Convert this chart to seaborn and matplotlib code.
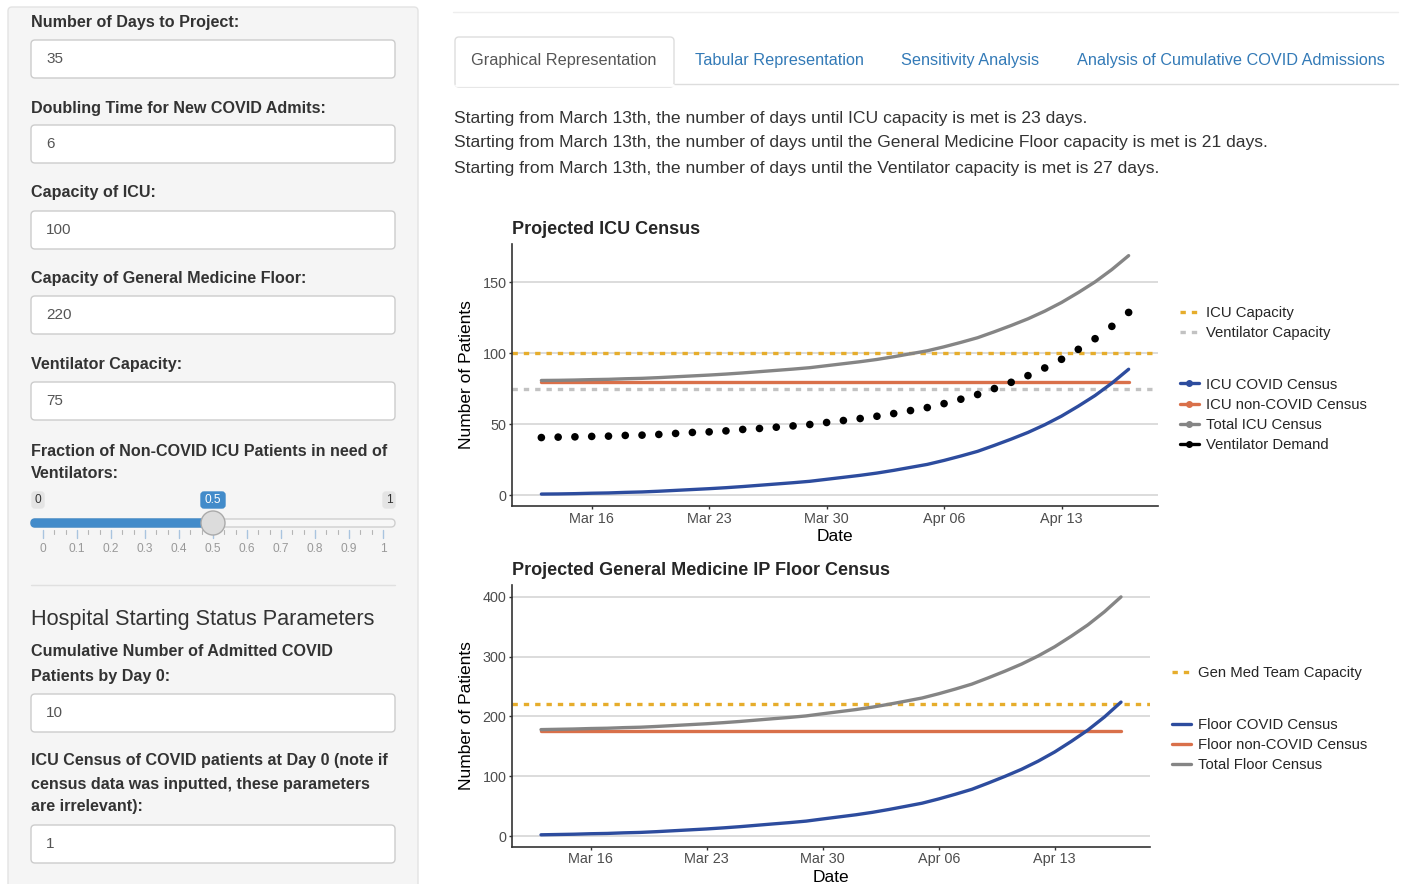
import numpy as np
import pandas as pd
import matplotlib
matplotlib.use("Agg")
import matplotlib.pyplot as plt
import matplotlib.dates as mdates
from matplotlib.patches import FancyBboxPatch, Circle
from matplotlib.lines import Line2D
import seaborn as sns

# ---- data ----
dates = pd.date_range("2020-03-13", periods=36, freq="D")

icu_covid = [0.9, 1.0, 1.2, 1.5, 1.7, 2.1, 2.4, 2.9, 3.5, 4.1, 4.7, 5.4,
             6.2, 7.1, 8.0, 8.9, 9.9, 11.3, 12.7, 14.1, 15.7, 17.6, 19.7, 21.8,
             24.6, 27.7, 31.0, 35.2, 39.6, 44.3, 49.7, 55.8, 62.8, 70.3, 79.0, 88.8]
icu_non_covid = [80] * 36
icu_total = [80.9, 81.0, 81.2, 81.5, 81.7, 82.1, 82.4, 82.9, 83.5, 84.1, 84.7, 85.4,
             86.2, 87.1, 88.0, 88.9, 89.9, 91.3, 92.7, 94.1, 95.7, 97.6, 99.7, 101.8,
             104.6, 107.7, 111.0, 115.2, 119.6, 124.3, 129.7, 135.8, 142.8, 150.3, 159.0, 168.8]
vent_demand = [40.7, 41.0, 41.2, 41.5, 41.7, 42.2, 42.4, 42.9, 43.6, 44.3, 44.7, 45.4,
               46.4, 47.1, 48.0, 48.9, 49.9, 51.3, 52.7, 54.1, 55.7, 57.6, 59.7, 61.8,
               64.6, 67.7, 71.0, 75.2, 79.6, 84.3, 89.7, 95.8, 102.8, 110.3, 119.0, 128.8]

floor_covid = [2.0, 2.5, 3.0, 3.8, 4.3, 5.3, 6.0, 7.3, 8.8, 10.3, 11.8, 13.6,
               15.6, 17.9, 20.2, 22.4, 24.9, 28.5, 32.0, 35.5, 39.6, 44.4, 49.6, 54.9,
               62.0, 69.8, 78.1, 88.7, 99.8, 111.6, 125.2, 140.6, 158.3, 177.2, 199.1, 224.0]
floor_non_covid = [176] * 36
floor_total = [178.0, 178.5, 179.0, 179.8, 180.3, 181.3, 182.0, 183.3, 184.8, 186.3, 187.8, 189.6,
               191.6, 193.9, 196.2, 198.4, 200.9, 204.5, 208.0, 211.5, 215.6, 220.4, 225.6, 230.9,
               238.0, 245.8, 254.1, 264.7, 275.8, 287.6, 301.2, 316.6, 334.3, 353.2, 375.1, 400.0]

icu_capacity = 100
vent_capacity = 75
floor_capacity = 220

icu_ticks = [0, 50, 100, 150]
floor_ticks = [0, 100, 200, 300, 400]

inputs = [("Number of Days to Project:", "35"),
          ("Doubling Time for New COVID Admits:", "6"),
          ("Capacity of ICU:", "100"),
          ("Capacity of General Medicine Floor:", "220"),
          ("Ventilator Capacity:", "75")]
slider_labels = ["0", "0.1", "0.2", "0.3", "0.4", "0.5", "0.6", "0.7", "0.8", "0.9", "1"]
tabs = ["Graphical Representation", "Tabular Representation",
        "Sensitivity Analysis", "Analysis of Cumulative COVID Admissions"]
msgs = ["Starting from March 13th, the number of days until ICU capacity is met is 23 days.",
        "Starting from March 13th, the number of days until the General Medicine Floor capacity is met is 21 days.",
        "Starting from March 13th, the number of days until the Ventilator capacity is met is 27 days."]

c_blue = "#2d4c9e"
c_orange = "#d9704a"
c_grey = "#858585"
c_yellow = "#e6ad2c"
c_lgrey = "#c2c2c2"

sns.set_theme(style="white")
plt.rcParams["font.family"] = ["Liberation Sans", "DejaVu Sans"]

W, H = 1402, 884
fig = plt.figure(figsize=(W / 100, H / 100), dpi=100)
bg = fig.add_axes([0, 0, 1, 1])
bg.set_xlim(0, W)
bg.set_ylim(H, 0)
bg.axis("off")


def box(x, y, w, h, fc, ec, r=4, lw=1.0, z=1):
    bg.add_patch(FancyBboxPatch((x, y), w, h, boxstyle=f"round,pad=0,rounding_size={r}",
                                fc=fc, ec=ec, lw=lw, zorder=z))


# ---- sidebar ----
box(8, 7, 410, 900, "#f5f5f5", "#e3e3e3", r=4)
label_y = [22, 108, 193, 278, 365]
field_y = [40, 125, 211, 296, 382]
for (lab, val), ly, fy in zip(inputs, label_y, field_y):
    bg.text(31, ly, lab, fontsize=11.6, fontweight="bold", color="#333333", va="center", zorder=3)
    box(31, fy, 364, 38, "white", "#cccccc", r=4, z=2)
    bg.text(46, fy + 19, val, fontsize=11, color="#555555", va="center", zorder=3)

bg.text(31, 451, "Fraction of Non-COVID ICU Patients in need of", fontsize=11.6,
        fontweight="bold", color="#333333", va="center", zorder=3)
bg.text(31, 474, "Ventilators:", fontsize=11.6, fontweight="bold", color="#333333", va="center", zorder=3)

# slider
sx0, sx1 = 43, 383
box(31, 519, 364, 8, "#f7f7f7", "#cfcfcf", r=4, z=2)
box(31, 519, 182, 8, "#428bca", "#428bca", r=4, z=3)
for i, lab in enumerate(slider_labels):
    x = sx0 + (sx1 - sx0) * i / 10
    bg.plot([x, x], [530, 538], color="#a9c4df", lw=1, zorder=2)
    bg.text(x, 549, lab, fontsize=8.6, color="#999999", ha="center", va="center", zorder=3)
    if i < 10:
        for k in (1, 2):
            xm = x + (sx1 - sx0) / 10 * k / 3
            bg.plot([xm, xm], [530, 534], color="#b5b5b5", lw=0.8, zorder=2)
bg.add_patch(Circle((213, 523), 12, fc="#dcdcdc", ec="#aaaaaa", lw=1, zorder=4))
box(32, 492, 12, 16, "#e4e4e4", "#e4e4e4", r=3, z=3)
bg.text(38, 500, "0", fontsize=8.6, color="#333333", ha="center", va="center", zorder=4)
box(201, 492, 24, 16, "#428bca", "#428bca", r=3, z=3)
bg.text(213, 500, "0.5", fontsize=8.6, color="white", ha="center", va="center", zorder=4)
box(383, 492, 12, 16, "#e4e4e4", "#e4e4e4", r=3, z=3)
bg.text(389, 500, "1", fontsize=8.6, color="#333333", ha="center", va="center", zorder=4)

bg.plot([31, 395], [585, 585], color="#e0e0e0", lw=1, zorder=2)
bg.text(31, 619, "Hospital Starting Status Parameters", fontsize=15.6, color="#333333", va="center", zorder=3)
for ly, lab in [(652, "Cumulative Number of Admitted COVID"), (676, "Patients by Day 0:"),
                (761, "ICU Census of COVID patients at Day 0 (note if"),
                (784, "census data was inputted, these parameters"), (807, "are irrelevant):")]:
    bg.text(31, ly, lab, fontsize=11.6, fontweight="bold", color="#333333", va="center", zorder=3)
for fy, val in [(694, "10"), (825, "1")]:
    box(31, fy, 364, 38, "white", "#cccccc", r=4, z=2)
    bg.text(46, fy + 19, val, fontsize=11, color="#555555", va="center", zorder=3)

# ---- tabs and messages ----
bg.plot([453, 1398], [12, 12], color="#eeeeee", lw=1, zorder=2)
bg.plot([455, 1398], [84, 84], color="#dddddd", lw=1, zorder=2)
box(455, 37, 219, 50, "white", "#dddddd", r=4, z=3)
bg.plot([456, 673], [84.5, 84.5], color="white", lw=2, zorder=4)
bg.text(564, 60, tabs[0], fontsize=11.7, color="#555555", ha="center", va="center", zorder=5)
for x, t in zip([695, 901, 1077], tabs[1:]):
    bg.text(x, 60, t, fontsize=11.7, color="#337ab7", va="center", zorder=5)
for y, m in zip([118, 143, 169], msgs):
    bg.text(454, y, m, fontsize=12.6, color="#333333", va="center", zorder=3)


# ---- charts ----
def px_axes(l, t, r, b):
    return fig.add_axes([l / W, 1 - b / H, (r - l) / W, (b - t) / H])


def style_axes(ax, ticks, lo, hi):
    pad = 0.05 * (hi - lo)
    ax.set_ylim(lo - pad, hi + pad)
    ax.set_yticks(ticks)
    ax.set_xlim(dates[0] - pd.Timedelta(days=1.75), dates[-1] + pd.Timedelta(days=1.75))
    ax.xaxis.set_major_locator(mdates.WeekdayLocator(byweekday=mdates.MO))
    ax.xaxis.set_major_formatter(mdates.DateFormatter("%b %d"))
    ax.yaxis.grid(True, color="#d9d9d9", lw=1.3)
    ax.xaxis.grid(False)
    ax.set_axisbelow(True)
    sns.despine(ax=ax)
    for s in ("left", "bottom"):
        ax.spines[s].set_color("#333333")
        ax.spines[s].set_linewidth(1.2)
    ax.tick_params(axis="both", bottom=True, left=True, length=2.5, width=1, color="#333333",
                   labelsize=10.4, labelcolor="#4d4d4d", pad=1.5)
    ax.set_xlabel("Date", fontsize=12.5, color="black", labelpad=2.5)
    ax.set_ylabel("Number of Patients", fontsize=12.5, color="black", labelpad=6)
    ax.patch.set_alpha(0)


dash = (0, (1.6, 1.8))
leg_kw = dict(bbox_transform=fig.transFigure, frameon=False, fontsize=10.7, handlelength=1.25,
              handletextpad=0.5, labelspacing=0.42, borderpad=0, borderaxespad=0, loc="center left")

# ICU census
icu_wide = pd.DataFrame({"Date": dates, "ICU COVID Census": icu_covid,
                         "ICU non-COVID Census": icu_non_covid, "Total ICU Census": icu_total,
                         "Ventilator Demand": vent_demand})
icu_long = icu_wide.melt(id_vars="Date", value_vars=["ICU COVID Census", "ICU non-COVID Census", "Total ICU Census"],
                         var_name="Series", value_name="Patients")
ax1 = px_axes(512, 243.7, 1158, 506)
ax1.axhline(icu_capacity, color=c_yellow, lw=2.4, ls=dash, zorder=1)
ax1.axhline(vent_capacity, color=c_lgrey, lw=2.4, ls=dash, zorder=1)
sns.lineplot(data=icu_long, x="Date", y="Patients", hue="Series",
             palette={"ICU COVID Census": c_blue, "ICU non-COVID Census": c_orange, "Total ICU Census": c_grey},
             hue_order=["ICU non-COVID Census", "Total ICU Census", "ICU COVID Census"],
             lw=2.4, legend=False, ax=ax1)
sns.scatterplot(data=icu_wide, x="Date", y="Ventilator Demand", color="black", s=30,
                edgecolor="none", ax=ax1, zorder=5)
style_axes(ax1, icu_ticks, min(icu_covid), max(icu_total))
ax1.set_title("Projected ICU Census", loc="left", fontsize=13, fontweight="bold", pad=7)

h_cap = [Line2D([], [], color=c_yellow, lw=2.4, ls=dash), Line2D([], [], color=c_lgrey, lw=2.4, ls=dash)]
leg = ax1.legend(h_cap, ["ICU Capacity", "Ventilator Capacity"],
                 bbox_to_anchor=(1180 / W, 1 - 323 / H), **leg_kw)
ax1.add_artist(leg)
h_cen = [Line2D([], [], color=c, lw=2.4, marker="o", markersize=4) for c in (c_blue, c_orange, c_grey, "black")]
ax1.legend(h_cen, ["ICU COVID Census", "ICU non-COVID Census", "Total ICU Census", "Ventilator Demand"],
           bbox_to_anchor=(1180 / W, 1 - 415 / H), **leg_kw)

# Floor census
floor_wide = pd.DataFrame({"Date": dates, "Floor COVID Census": floor_covid,
                           "Floor non-COVID Census": floor_non_covid, "Total Floor Census": floor_total})
floor_long = floor_wide.melt(id_vars="Date", var_name="Series", value_name="Patients")
ax2 = px_axes(512, 585, 1150, 846.7)
ax2.axhline(floor_capacity, color=c_yellow, lw=2.4, ls=dash, zorder=1)
sns.lineplot(data=floor_long, x="Date", y="Patients", hue="Series",
             palette={"Floor COVID Census": c_blue, "Floor non-COVID Census": c_orange, "Total Floor Census": c_grey},
             hue_order=["Floor non-COVID Census", "Total Floor Census", "Floor COVID Census"],
             lw=2.4, legend=False, ax=ax2)
style_axes(ax2, floor_ticks, min(floor_covid), max(floor_total))
ax2.set_title("Projected General Medicine IP Floor Census", loc="left", fontsize=13, fontweight="bold", pad=7)

leg = ax2.legend([Line2D([], [], color=c_yellow, lw=2.4, ls=dash)], ["Gen Med Team Capacity"],
                 bbox_to_anchor=(1172 / W, 1 - 673 / H), **leg_kw)
ax2.add_artist(leg)
ax2.legend([Line2D([], [], color=c, lw=2.4) for c in (c_blue, c_orange, c_grey)],
           ["Floor COVID Census", "Floor non-COVID Census", "Total Floor Census"],
           bbox_to_anchor=(1172 / W, 1 - 745 / H), **leg_kw)

fig.savefig("out.png", dpi=100)
